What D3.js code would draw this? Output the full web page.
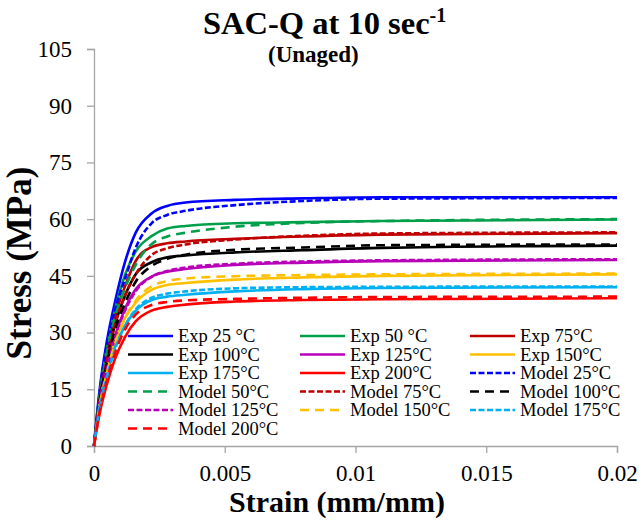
<!DOCTYPE html>
<html>
<head>
<meta charset="utf-8">
<script src="https://cdn.jsdelivr.net/npm/d3@7/dist/d3.min.js"></script>
<style>
  body { margin: 0; background: #fff; }
  svg { display: block; font-family: "Liberation Serif", "Times New Roman", serif; }
</style>
</head>
<body>
<div id="chart"></div>
<script>
// strain sample points (mm/mm) shared by every curve
const strain = [0, 0.0002, 0.0005, 0.0008, 0.0012, 0.0016, 0.0022, 0.0028, 0.0035, 0.0054, 0.008, 0.011, 0.02];

// stress (MPa)
const exp25 = [0, 14, 28, 38, 49, 56.5, 61.5, 63.5, 64.4, 65.1, 65.5, 65.8, 65.8];
const exp50 = [0, 13, 26, 36, 45.5, 51.5, 55.5, 57.5, 58.2, 58.9, 59.2, 59.5, 59.9];
const exp75 = [0, 12, 24, 34, 42.5, 49, 52.6, 53.6, 54.1, 54.8, 55.4, 55.9, 56.3];
const exp100 = [0, 11.5, 23, 32, 40, 45.5, 48.6, 49.9, 50.4, 51.2, 51.8, 52.4, 53];
const exp125 = [0, 11, 21, 29, 36.5, 41.5, 44.8, 46.1, 46.8, 47.9, 48.5, 48.9, 49.2];
const exp150 = [0, 10.5, 20, 27.5, 34, 38, 41.3, 42.6, 43.1, 44, 44.6, 45, 45.4];
const exp175 = [0, 10, 19, 26, 32, 35.8, 38.6, 39.5, 40, 40.9, 41.5, 41.8, 42];
const exp200 = [0, 8, 16.5, 23, 29, 33, 35.8, 36.8, 37.4, 38.2, 38.6, 38.8, 39.1];
const mod25 = [0, 13, 27, 36, 44.5, 52.5, 58.9, 61.1, 62.2, 63.7, 64.8, 65.4, 65.6];
const mod50 = [0, 12, 25, 34, 42, 48, 53.4, 55.4, 56.4, 58, 59, 59.5, 60];
const mod75 = [0, 11.5, 23, 32, 40, 45.5, 50.5, 52.3, 53.3, 54.6, 55.6, 56.2, 56.5];
const mod100 = [0, 11, 22, 30.5, 38, 43.5, 47.6, 49.5, 50.6, 51.9, 52.5, 53.1, 53.3];
const mod125 = [0, 10.5, 20.5, 28.5, 36, 41, 44.7, 46.3, 47.2, 48.2, 48.8, 49.1, 49.4];
const mod150 = [0, 10, 19.5, 27, 34, 38.5, 42.2, 43.6, 44.3, 44.9, 45.2, 45.4, 45.6];
const mod175 = [0, 9.5, 18.5, 25.5, 32, 36.2, 39.2, 40.3, 40.9, 41.7, 42, 42.1, 42.2];
const mod200 = [0, 8.5, 17.5, 24.5, 31, 34.8, 37.3, 38.1, 38.5, 38.9, 39.2, 39.4, 39.5];

const seriesNames = [
  "Exp 25 °C", "Exp 50 °C", "Exp 75°C", "Exp 100°C", "Exp 125°C", "Exp 150°C",
  "Exp 175°C", "Exp 200°C", "Model 25°C", "Model 50°C", "Model 75°C", "Model 100°C",
  "Model 125°C", "Model 150°C", "Model 175°C", "Model 200°C"
];
const seriesValues = [exp25, exp50, exp75, exp100, exp125, exp150, exp175, exp200,
  mod25, mod50, mod75, mod100, mod125, mod150, mod175, mod200];
const palette = ["#0000ff", "#00a04b", "#c00000", "#000000", "#b800b8", "#ffc000", "#00b0f0", "#ff0000"];
const shortDash = "6,2.5";
const longDash = "9,6";
const modelDash = [shortDash, longDash, shortDash, longDash, shortDash, longDash, shortDash, longDash];

const xTicks = [0, 0.005, 0.01, 0.015, 0.02];
const yTicks = [0, 15, 30, 45, 60, 75, 90, 105];

const width = 644, height = 522;
const margin = {left: 94, right: 27, top: 49, bottom: 76};

const svg = d3.select("#chart").append("svg")
  .attr("width", width)
  .attr("height", height);

const x = d3.scaleLinear().domain([0, 0.02]).range([margin.left, width - margin.right]);
const y = d3.scaleLinear().domain([0, 105]).range([height - margin.bottom, margin.top]);

// axes
const xAxis = svg.append("g")
  .attr("transform", `translate(0,${y(0)})`)
  .call(d3.axisBottom(x).tickValues(xTicks).tickSize(7).tickPadding(12).tickFormat(d => d));
const yAxis = svg.append("g")
  .attr("transform", `translate(${x(0)},0)`)
  .call(d3.axisLeft(y).tickValues(yTicks).tickSize(7).tickPadding(15));

[xAxis, yAxis].forEach(a => {
  a.select(".domain").attr("stroke", "#a6a6a6").attr("stroke-width", 1.3);
  a.selectAll(".tick line").attr("stroke", "#a6a6a6").attr("stroke-width", 1.3);
  a.selectAll(".tick text")
    .attr("fill", "#000")
    .style("font-family", "'Liberation Serif', serif")
    .style("font-size", "23px");
});

// curves
const line = d3.line()
  .x((d, i) => x(strain[i]))
  .y(d => y(d))
  .curve(d3.curveMonotoneX);

const plot = svg.append("g");
seriesValues.forEach((vals, k) => {
  const isModel = k >= 8;
  plot.append("path")
    .datum(vals)
    .attr("d", line)
    .attr("fill", "none")
    .attr("stroke", palette[k % 8])
    .attr("stroke-width", 2.6)
    .attr("stroke-dasharray", isModel ? modelDash[k % 8] : null);
});

// legend
const legend = svg.append("g");
const colX = [128, 300, 470];
const rowY0 = 336, rowStep = 18.5;
seriesNames.forEach((name, k) => {
  const col = k % 3, row = Math.floor(k / 3);
  const g = legend.append("g")
    .attr("transform", `translate(${colX[col]},${rowY0 + row * rowStep})`);
  g.append("line")
    .attr("x1", 0).attr("x2", 45)
    .attr("stroke", palette[k % 8])
    .attr("stroke-width", 2.6)
    .attr("stroke-dasharray", k >= 8 ? modelDash[k % 8] : null);
  g.append("text")
    .attr("x", 50).attr("y", 6)
    .style("font-size", "18.5px")
    .text(name);
});

// title
const title = svg.append("text")
  .attr("x", 203).attr("y", 34)
  .style("font-size", "32.5px")
  .style("font-weight", "bold")
  .text("SAC-Q at 10 sec");
title.append("tspan")
  .attr("dy", -12)
  .style("font-size", "20px")
  .text("-1");

svg.append("text")
  .attr("x", 268).attr("y", 62)
  .style("font-size", "23px")
  .style("font-weight", "bold")
  .text("(Unaged)");

// axis titles
svg.append("text")
  .attr("transform", `translate(31,263) rotate(-90)`)
  .attr("text-anchor", "middle")
  .style("font-size", "35px")
  .style("font-weight", "bold")
  .text("Stress (MPa)");

svg.append("text")
  .attr("x", 337).attr("y", 512)
  .attr("text-anchor", "middle")
  .style("font-size", "30px")
  .style("font-weight", "bold")
  .text("Strain (mm/mm)");
</script>
</body>
</html>
